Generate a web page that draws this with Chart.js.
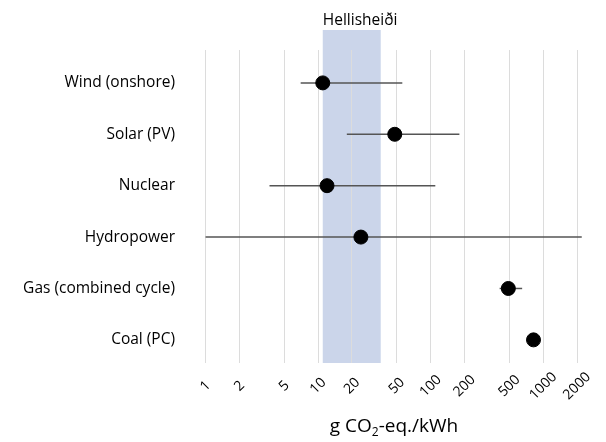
<!DOCTYPE html>
<html>
<head>
<meta charset="utf-8">
<script src="https://cdn.jsdelivr.net/npm/chart.js@4"></script>
<style>
  html, body { margin: 0; padding: 0; background: #fff; }
  #wrap { width: 606px; height: 442px; }
</style>
</head>
<body>
<div id="wrap"><canvas id="chart"></canvas></div>
<script>
// Life-cycle emissions by technology (g CO2-eq./kWh)
const categories = ['Wind (onshore)', 'Solar (PV)', 'Nuclear', 'Hydropower', 'Gas (combined cycle)', 'Coal (PC)'];
const medians = [11, 48, 12, 24, 490, 820];
const mins = [7, 18, 3.7, 1, 410, 740];
const maxs = [56, 180, 110, 2200, 650, 910];
const tickValues = [1, 2, 5, 10, 20, 50, 100, 200, 500, 1000, 2000];
const bandRange = [11, 36];
const bandLabel = 'Hellisheiði';

const FONT = '"Open Sans", sans-serif';

// one line dataset per row for the min-max range
const rangeSets = categories.map((c, i) => ({
    type: 'line',
    data: [{ x: mins[i], y: i }, { x: maxs[i], y: i }],
    borderColor: '#555',
    borderWidth: 1.5,
    pointRadius: 0,
    order: 2
}));

// Shaded band + its label, drawn under the grid
const bandPlugin = {
    id: 'band',
    beforeDraw(chart) {
        const { ctx, chartArea } = chart;
        const x = chart.scales.x;
        const x0 = x.getPixelForValue(bandRange[0]);
        const x1 = x.getPixelForValue(bandRange[1]);
        ctx.save();
        ctx.fillStyle = '#cbd5ea';
        ctx.fillRect(x0, chartArea.top - 20, x1 - x0, chartArea.bottom - chartArea.top + 20);
        ctx.fillStyle = '#000';
        ctx.font = '15.5px ' + FONT;
        ctx.textAlign = 'left';
        ctx.textBaseline = 'alphabetic';
        ctx.fillText(bandLabel, x0, chartArea.top - 25);
        ctx.restore();
    }
};

// Rotated, centred tick labels and the axis title with subscript
const axisPlugin = {
    id: 'axisText',
    afterDraw(chart) {
        const { ctx, chartArea } = chart;
        const x = chart.scales.x;
        ctx.save();
        ctx.fillStyle = '#000';
        ctx.font = '14px ' + FONT;
        ctx.textAlign = 'center';
        ctx.textBaseline = 'middle';
        tickValues.forEach(v => {
            ctx.save();
            ctx.translate(x.getPixelForValue(v), chartArea.bottom + 23);
            ctx.rotate(-Math.PI / 4);
            ctx.fillText(String(v), 0, 0);
            ctx.restore();
        });

        // title: g CO2-eq./kWh
        const big = '19px ' + FONT;
        const small = '12px ' + FONT;
        const a = 'g CO', b = '2', c = '-eq./kWh';
        ctx.font = big;
        const wa = ctx.measureText(a).width;
        const wc = ctx.measureText(c).width;
        ctx.font = small;
        const wb = ctx.measureText(b).width;
        const total = wa + wb + wc;
        let px = (chartArea.left + chartArea.right) / 2 - total / 2;
        const base = chartArea.bottom + 69;
        ctx.textAlign = 'left';
        ctx.textBaseline = 'alphabetic';
        ctx.font = big;
        ctx.fillText(a, px, base);
        px += wa;
        ctx.font = small;
        ctx.fillText(b, px, base + 4);
        px += wb;
        ctx.font = big;
        ctx.fillText(c, px, base);
        ctx.restore();
    }
};

new Chart(document.getElementById('chart'), {
    type: 'scatter',
    data: {
        datasets: [
            {
                data: medians.map((m, i) => ({ x: m, y: i })),
                backgroundColor: '#000',
                borderColor: '#000',
                pointRadius: 7,
                pointHoverRadius: 7,
                order: 1
            },
            ...rangeSets
        ]
    },
    options: {
        responsive: true,
        maintainAspectRatio: false,
        animation: false,
        layout: { padding: { top: 50, right: 20, left: 0, bottom: 0 } },
        plugins: {
            legend: { display: false },
            tooltip: { enabled: false }
        },
        scales: {
            x: {
                type: 'logarithmic',
                min: 0.93,
                max: 2400,
                afterBuildTicks(scale) {
                    scale.ticks = tickValues.map(v => ({ value: v }));
                },
                afterFit(scale) { scale.height = 79; },
                ticks: { display: false },
                grid: { color: '#dcdcdc', lineWidth: 1, drawTicks: false },
                border: { display: false }
            },
            y: {
                type: 'linear',
                reverse: true,
                min: -0.64,
                max: 5.45,
                afterBuildTicks(scale) {
                    scale.ticks = categories.map((c, i) => ({ value: i }));
                },
                afterFit(scale) { scale.width = 202; },
                ticks: {
                    padding: 27,
                    color: '#000',
                    font: { family: FONT, size: 15.5 },
                    callback: v => categories[v]
                },
                grid: { display: false, drawTicks: false },
                border: { display: false }
            }
        }
    },
    plugins: [bandPlugin, axisPlugin]
});
</script>
</body>
</html>
